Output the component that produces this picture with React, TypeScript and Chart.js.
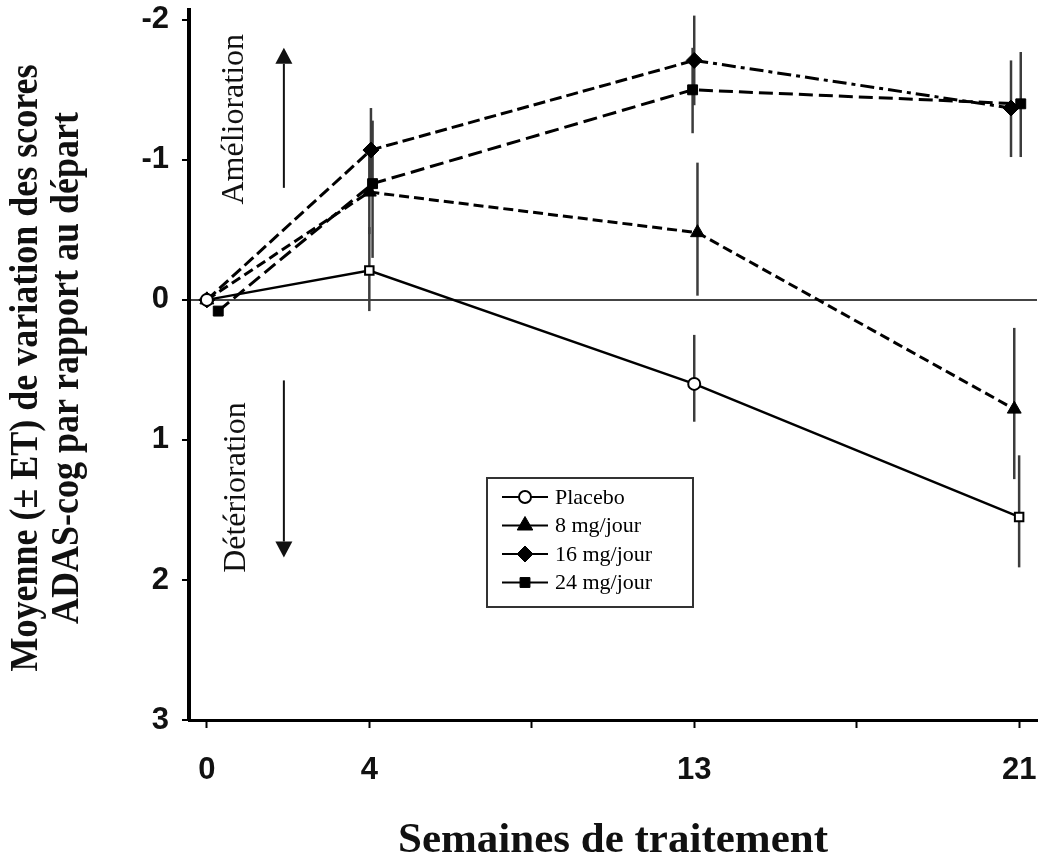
import React, { useEffect, useRef } from 'react';
import { Chart, registerables } from 'chart.js';
import { drawPoint } from 'chart.js/helpers';

Chart.register(...registerables);

// ---- Data ----
const weekTickLabels = ['0', '4', '', '13', '', '21'];
const seriesNames = ['Placebo', '8 mg/jour', '16 mg/jour', '24 mg/jour'];
const annotationLabels = ['Amélioration', 'Détérioration'];
const yTitleLines = ['Moyenne (\u00B1 ET) de variation des scores', 'ADAS-cog par rapport au départ'];
const xTitle = 'Semaines de traitement';

const placeboX = [0, 1, 3, 5.0];
const placeboY = [0, -0.21, 0.6, 1.55];
const placeboLow = [0, -0.52, 0.25, 1.11];
const placeboHigh = [0, 0.08, 0.87, 1.91];

const mg8X = [0, 1, 3.02, 4.97];
const mg8Y = [0, -0.77, -0.48, 0.78];
const mg8Low = [0, -1.05, -0.98, 0.2];
const mg8High = [0, -0.47, -0.03, 1.28];

const mg16X = [0, 1.01, 3, 4.95];
const mg16Y = [0, -1.07, -1.71, -1.37];
const mg16Low = [0, -1.37, -2.03, -1.71];
const mg16High = [0, -0.78, -1.39, -1.02];

const mg24X = [0.07, 1.02, 2.99, 5.01];
const mg24Y = [0.08, -0.83, -1.5, -1.4];
const mg24Low = [0.08, -1.28, -1.8, -1.77];
const mg24High = [0.08, -0.3, -1.19, -1.02];

const placeboMarkers = ['circle', 'rect', 'circle', 'rect'];

const SANS = '"Liberation Sans", Arial, sans-serif';
const SERIF = '"Liberation Serif", "Times New Roman", serif';

const toPoints = (xs: number[], ys: number[]) => xs.map((x, i) => ({ x, y: ys[i] }));

const errorBarsPlugin = {
  id: 'errorBars',
  beforeDatasetsDraw(chart: any) {
    const { ctx, scales } = chart;
    const x = scales.x, y = scales.y;
    ctx.save();
    ctx.strokeStyle = '#3c3c3c';
    ctx.lineWidth = 2.5;
    chart.data.datasets.forEach((ds: any) => {
      ds.data.forEach((pt: any, i: number) => {
        const lo = ds.errLow[i];
        const hi = ds.errHigh[i];
        if (lo === hi) return;
        const px = x.getPixelForValue(pt.x);
        ctx.beginPath();
        ctx.moveTo(px, y.getPixelForValue(lo));
        ctx.lineTo(px, y.getPixelForValue(hi));
        ctx.stroke();
      });
    });
    ctx.restore();
  },
};

const annotationPlugin = {
  id: 'annotations',
  afterDatasetsDraw(chart: any) {
    const { ctx, scales } = chart;
    const x = scales.x, y = scales.y;
    const texts = [
      { text: annotationLabels[0], x: 0.22, y: -1.29 },
      { text: annotationLabels[1], x: 0.235, y: 1.34 },
    ];
    const arrows = [
      { x: 0.474, from: -0.8, to: -1.8 },
      { x: 0.474, from: 0.575, to: 1.84 },
    ];
    ctx.save();
    ctx.fillStyle = '#111';
    ctx.strokeStyle = '#111';
    ctx.font = `32px ${SERIF}`;
    texts.forEach((a) => {
      ctx.save();
      ctx.translate(x.getPixelForValue(a.x), y.getPixelForValue(a.y));
      ctx.rotate(-Math.PI / 2);
      ctx.textAlign = 'center';
      ctx.textBaseline = 'alphabetic';
      ctx.fillText(a.text, 0, 0);
      ctx.restore();
    });
    ctx.lineWidth = 2;
    arrows.forEach((a) => {
      const px = x.getPixelForValue(a.x);
      const y0 = y.getPixelForValue(a.from);
      const y1 = y.getPixelForValue(a.to);
      const dir = Math.sign(y1 - y0);
      const head = 16;
      ctx.beginPath();
      ctx.moveTo(px, y0);
      ctx.lineTo(px, y1 - dir * head);
      ctx.stroke();
      ctx.beginPath();
      ctx.moveTo(px, y1);
      ctx.lineTo(px - 8.5, y1 - dir * head);
      ctx.lineTo(px + 8.5, y1 - dir * head);
      ctx.closePath();
      ctx.fill();
    });
    ctx.restore();
  },
};

const yTitlePlugin = {
  id: 'yTitle',
  afterDraw(chart: any) {
    const { ctx, scales } = chart;
    const y = scales.y;
    const cy = (y.top + y.bottom) / 2 + 3;
    const baselines = [37, 78];
    ctx.save();
    ctx.fillStyle = '#111';
    ctx.font = `bold 36px ${SERIF}`;
    ctx.textAlign = 'center';
    ctx.textBaseline = 'alphabetic';
    yTitleLines.forEach((line, i) => {
      ctx.save();
      ctx.translate(baselines[i], cy);
      ctx.rotate(-Math.PI / 2);
      ctx.scale(1, 1.12);
      ctx.fillText(line, 0, 0);
      ctx.restore();
    });
    ctx.restore();
  },
};

const legendPlugin = {
  id: 'legendBox',
  afterDraw(chart: any) {
    const { ctx } = chart;
    const bx = 487, by = 478, bw = 206, bh = 129;
    ctx.save();
    ctx.fillStyle = '#fff';
    ctx.fillRect(bx, by, bw, bh);
    ctx.strokeStyle = '#333';
    ctx.lineWidth = 2;
    ctx.setLineDash([]);
    ctx.strokeRect(bx, by, bw, bh);
    ctx.font = `22px ${SERIF}`;
    ctx.textBaseline = 'middle';
    ctx.textAlign = 'left';
    chart.data.datasets.forEach((ds: any, i: number) => {
      const cy = by + 19 + i * 28.5;
      ctx.strokeStyle = '#000';
      ctx.lineWidth = 2;
      ctx.beginPath();
      ctx.moveTo(bx + 15, cy);
      ctx.lineTo(bx + 61, cy);
      ctx.stroke();
      ctx.fillStyle = ds.legendFill;
      ctx.strokeStyle = '#000';
      ctx.lineWidth = ds.pointBorderWidth;
      drawPoint(ctx, { pointStyle: ds.legendStyle, rotation: 0, radius: ds.legendRadius, borderWidth: ds.pointBorderWidth }, bx + 38, cy);
      ctx.fillStyle = '#000';
      ctx.fillText(seriesNames[i], bx + 68, cy + 1);
    });
    ctx.restore();
  },
};

export default function App() {
  const canvasRef = useRef<HTMLCanvasElement | null>(null);

  useEffect(() => {
    document.body.style.margin = '0';
    const canvas = canvasRef.current;
    if (!canvas) return;
    const chart = new Chart(canvas, {
      type: 'line',
      data: {
        datasets: [
          {
            label: seriesNames[0],
            data: toPoints(placeboX, placeboY),
            errLow: placeboLow,
            errHigh: placeboHigh,
            borderColor: '#000',
            borderWidth: 2.5,
            pointStyle: placeboMarkers,
            pointRadius: 6,
            pointBackgroundColor: '#fff',
            pointBorderColor: '#000',
            pointBorderWidth: 2,
            legendStyle: 'circle',
            legendRadius: 6,
            legendFill: '#fff',
          } as any,
          {
            label: seriesNames[1],
            data: toPoints(mg8X, mg8Y),
            errLow: mg8Low,
            errHigh: mg8High,
            borderColor: '#000',
            borderWidth: 3,
            borderDash: [10, 5],
            pointStyle: 'triangle',
            pointRadius: 8,
            pointBackgroundColor: '#000',
            pointBorderColor: '#000',
            pointBorderWidth: 1,
            legendStyle: 'triangle',
            legendRadius: 9,
            legendFill: '#000',
          } as any,
          {
            label: seriesNames[2],
            data: toPoints(mg16X, mg16Y),
            errLow: mg16Low,
            errHigh: mg16High,
            borderColor: '#000',
            borderWidth: 3,
            borderDash: [12, 5],
            segment: {
              borderDash: (c: any) => (c.p0DataIndex === 2 ? [14, 5, 4, 5] : undefined),
            },
            pointStyle: 'rectRot',
            pointRadius: 8,
            pointBackgroundColor: '#000',
            pointBorderColor: '#000',
            pointBorderWidth: 1,
            legendStyle: 'rectRot',
            legendRadius: 8,
            legendFill: '#000',
          } as any,
          {
            label: seriesNames[3],
            data: toPoints(mg24X, mg24Y),
            errLow: mg24Low,
            errHigh: mg24High,
            borderColor: '#000',
            borderWidth: 3,
            borderDash: [14, 6],
            pointStyle: 'rect',
            pointRadius: 7,
            pointBackgroundColor: '#000',
            pointBorderColor: '#000',
            pointBorderWidth: 1,
            legendStyle: 'rect',
            legendRadius: 7,
            legendFill: '#000',
          } as any,
        ],
      },
      options: {
        responsive: false,
        animation: false,
        events: [],
        layout: { autoPadding: false, padding: { top: 10, right: 2, left: 0, bottom: 0 } },
        elements: { line: { tension: 0 } },
        plugins: {
          legend: { display: false },
          tooltip: { enabled: false },
        },
        scales: {
          x: {
            type: 'linear',
            min: -0.11,
            max: 5.11,
            afterFit: (scale: any) => {
              scale.height = 140;
              scale.paddingLeft = 0;
              scale.paddingRight = 0;
            },
            border: { display: true, color: '#000', width: 3 },
            grid: {
              display: true,
              drawOnChartArea: false,
              drawTicks: true,
              tickLength: 8,
              tickColor: '#000',
              tickWidth: 2,
            },
            ticks: {
              stepSize: 1,
              includeBounds: false,
              autoSkip: false,
              maxRotation: 0,
              padding: 0,
              color: '#111',
              font: { family: SANS, size: 31, weight: 'bold', lineHeight: 84 / 31 },
              callback: (v: any) => weekTickLabels[Math.round(v)] ?? '',
            },
            title: {
              display: true,
              text: xTitle,
              color: '#111',
              font: { family: SERIF, size: 43, weight: 'bold', lineHeight: 0.9 },
              padding: { top: 0, bottom: 0 },
            },
          },
          y: {
            type: 'linear',
            reverse: true,
            min: -2.07,
            max: 3,
            afterFit: (scale: any) => {
              scale.width = 189;
              scale.paddingTop = 0;
              scale.paddingBottom = 0;
            },
            border: { display: true, color: '#000', width: 4 },
            grid: {
              display: true,
              drawOnChartArea: true,
              color: (c: any) => (c.tick && c.tick.value === 0 ? '#444' : 'rgba(0,0,0,0)'),
              lineWidth: 2,
              drawTicks: true,
              tickLength: 7,
              tickColor: '#000',
              tickWidth: 2,
            },
            ticks: {
              stepSize: 1,
              includeBounds: false,
              padding: 13,
              color: '#111',
              font: { family: SANS, size: 31, weight: 'bold', lineHeight: 1.2 },
              callback: (v: any) => String(v),
            },
            title: { display: false },
          },
        },
      } as any,
      plugins: [errorBarsPlugin, annotationPlugin, yTitlePlugin, legendPlugin],
    });
    return () => chart.destroy();
  }, []);

  return (
    <div style={{ width: 1039, height: 860, background: '#fff' }}>
      <canvas ref={canvasRef} width={1039} height={860} />
    </div>
  );
}
